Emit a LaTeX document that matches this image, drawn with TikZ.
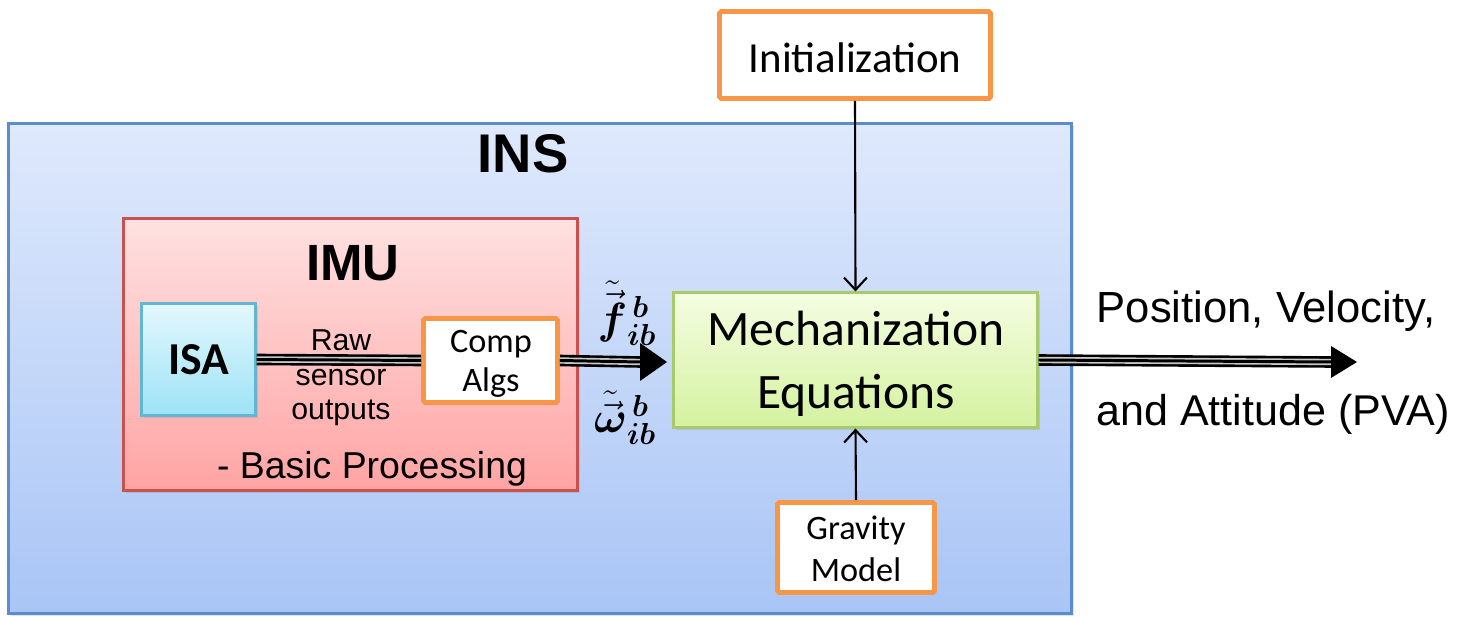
\documentclass[tikz,border=0pt]{standalone}
\usepackage{amsmath}
\usepackage{bm}
\usepackage{fontspec}
\setmainfont{Carlito}
\newfontfamily\arial{Liberation Sans}
\usetikzlibrary{arrows.meta,shadows}
\newdimen\pu \pu=0.02cm
\definecolor{insTop}{HTML}{DFE9FC}
\definecolor{insBot}{HTML}{A9C5F5}
\definecolor{insLine}{HTML}{5B8CCC}
\definecolor{imuTop}{HTML}{FFE1E1}
\definecolor{imuBot}{HTML}{FFA4A4}
\definecolor{imuLine}{HTML}{C9524F}
\definecolor{isaTop}{HTML}{E4F7FD}
\definecolor{isaBot}{HTML}{9CE3F6}
\definecolor{isaLine}{HTML}{5FB7D2}
\definecolor{mechTop}{HTML}{F4FDE2}
\definecolor{mechBot}{HTML}{D4F29F}
\definecolor{mechLine}{HTML}{A8CB6A}
\definecolor{orangeLine}{HTML}{F79646}
\definecolor{gapGray}{HTML}{C8C8C8}
\tikzset{
  box/.style={inner sep=0pt, align=center, drop shadow={shadow xshift=1.2pt, shadow yshift=-1.2pt, opacity=0.22}},
  obox/.style={box, draw=orangeLine, line width=2.8pt, fill=white, rounded corners=1pt},
  triple/.style={line width=6.6pt, draw=black,
     postaction={draw=gapGray, line width=3.6pt},
     postaction={draw=black, line width=1.7pt}},
  thinarrow/.style={line width=1.2pt, -{Straight Barb[length=7pt, width=13pt, line width=1.2pt]}},
  lbl/.style={inner sep=0pt, align=center}
}
\begin{document}
\begin{tikzpicture}[x=0.02cm, y=-0.02cm]
\useasboundingbox (0,0) rectangle (1471,617);
% INS
\node[box, draw=insLine, line width=1.2pt, top color=insTop, bottom color=insBot,
  minimum width=1063\pu, minimum height=490\pu] (ins) at (540,368.5) {};
\node[lbl, font=\arial\bfseries\fontsize{31}{34}\selectfont] (inslbl) at (523,154) {INS};
% IMU
\node[box, draw=imuLine, line width=1.2pt, top color=imuTop, bottom color=imuBot,
  minimum width=454\pu, minimum height=272\pu] (imu) at (350.5,354.5) {};
\node[lbl, font=\arial\bfseries\fontsize{29}{32}\selectfont] (imulbl) at (353,263) {IMU};
% ISA
\node[box, draw=isaLine, line width=1.2pt, top color=isaTop, bottom color=isaBot,
  minimum width=114\pu, minimum height=112\pu, font=\bfseries\fontsize{26}{30}\selectfont] (isa) at (198.5,359.5) {ISA};
% Comp Algs
\node[obox, minimum width=134\pu, minimum height=84\pu] (comp) at (490.5,360.5) {};
\node[lbl, font=\fontsize{19.5}{22}\selectfont] (complbl) at (491,364) {Comp\\Algs};
% Mechanization
\node[box, draw=mechLine, line width=1.2pt, top color=mechTop, bottom color=mechBot,
  minimum width=364\pu, minimum height=135\pu] (mech) at (855.5,360) {};
\node[lbl, font=\fontsize{28.2}{36}\selectfont] (mechlbl) at (856,364) {Mechanization\\Equations};
% Initialization
\node[obox, minimum width=271\pu, minimum height=87\pu] (init) at (855,55) {};
\node[lbl, font=\fontsize{24.4}{28}\selectfont] (initlbl) at (855,58) {Initialization};
% Gravity Model
\node[obox, minimum width=157\pu, minimum height=90\pu] (grav) at (856,547.5) {};
\node[lbl, font=\fontsize{19.5}{24}\selectfont] (gravlbl) at (856,549) {Gravity\\Model};
% labels
\node[lbl, font=\arial\fontsize{17.2}{19.5}\selectfont] (raw) at (341,378) {Raw\\sensor\\outputs};
\node[lbl, font=\arial\fontsize{21.3}{24}\selectfont] (basic) at (372,469) {- Basic Processing};
\node[lbl, font=\fontsize{24}{28}\selectfont] (flbl) at (627,313) {$\tilde{\vec{\bm{f}}}{}_{\bm{ib}}^{\,\bm{b}}$};
\node[lbl, font=\fontsize{24}{28}\selectfont] (wlbl) at (625,418) {$\tilde{\vec{\bm{\omega}}}{}_{\bm{ib}}^{\,\bm{b}}$};
\node[lbl, font=\arial\fontsize{24.8}{28}\selectfont] (pv) at (1266,311) {Position, Velocity,};
\node[lbl, font=\arial\fontsize{24.5}{28}\selectfont] (att) at (1273,414) {and Attitude (PVA)};
% coordinates
\coordinate (tipA) at (640,362);
\coordinate (tipAend) at (667,362);
\coordinate (outEnd) at (1331,362);
\coordinate (outTip) at (1357,362);
% connectors
\draw[triple] (isa.east) -- (comp.west);
\draw[triple] (comp.east) -- (tipA);
\fill (tipAend) -- ([yshift=-19\pu]tipA) -- ([yshift=19\pu]tipA) -- cycle;
\draw[triple] (mech.east) -- (outEnd);
\fill (outTip) -- ([yshift=-16\pu]outEnd) -- ([yshift=16\pu]outEnd) -- cycle;
\draw[thinarrow] (init.south) -- (mech.north);
\draw[thinarrow] (grav.north) -- (mech.south);
\end{tikzpicture}
\end{document}
